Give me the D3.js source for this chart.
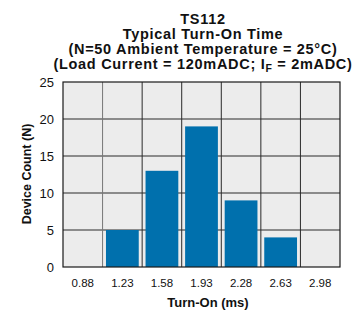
<!DOCTYPE html>
<html>
<head>
<meta charset="utf-8">
<script src="https://cdn.jsdelivr.net/npm/d3@7"></script>
<style>
  body { margin: 0; background: #fff; }
  svg { font-family: "Liberation Sans", Arial, Helvetica, sans-serif; }
</style>
</head>
<body>
<div id="chart"></div>
<script>
// data
const categories = ["0.88", "1.23", "1.58", "1.93", "2.28", "2.63", "2.98"];
const counts = [0, 5, 13, 19, 9, 4, 0];
const yTicks = [0, 5, 10, 15, 20, 25];

const W = 360, H = 312;
const margin = {top: 82, right: 20, bottom: 45, left: 63};
const width = 340 - margin.left;
const height = 267 - margin.top;

const svg = d3.select("#chart").append("svg")
  .attr("width", W)
  .attr("height", H);

// titles, one text per line
const titleX = 203;
const titleLines = ["TS112", "Typical Turn-On Time", "(N=50 Ambient Temperature = 25°C)"];
titleLines.forEach((t, i) => {
  svg.append("text")
    .attr("x", titleX)
    .attr("y", 24 + i * 15)
    .attr("text-anchor", "middle")
    .attr("font-weight", "bold")
    .attr("font-size", "14.5px")
    .attr("letter-spacing", "0.7px")
    .attr("fill", "#111")
    .text(t);
});
const last = svg.append("text")
  .attr("x", titleX)
  .attr("y", 69)
  .attr("text-anchor", "middle")
  .attr("font-weight", "bold")
  .attr("font-size", "14.5px")
  .attr("letter-spacing", "0.7px")
  .attr("fill", "#111");
last.append("tspan").text("(Load Current = 120mADC; I");
last.append("tspan").attr("font-size", "10.5px").attr("dy", 3).text("F");
last.append("tspan").attr("dy", -3).text(" = 2mADC)");

const g = svg.append("g")
  .attr("transform", "translate(" + margin.left + "," + margin.top + ")");

const x = d3.scaleBand()
  .domain(categories)
  .range([0, width])
  .padding(0);

const y = d3.scaleLinear()
  .domain([0, 25])
  .range([height, 0]);

// plot background
g.append("rect")
  .attr("width", width)
  .attr("height", height)
  .attr("fill", "#ececec");

// grid
g.selectAll(".hgrid")
  .data(yTicks.slice(1, -1))
  .enter().append("line")
  .attr("class", "hgrid")
  .attr("x1", 0).attr("x2", width)
  .attr("y1", d => y(d)).attr("y2", d => y(d))
  .attr("stroke", "#2a2a2a")
  .attr("stroke-width", 1);

g.selectAll(".vgrid")
  .data(categories.slice(1))
  .enter().append("line")
  .attr("class", "vgrid")
  .attr("x1", d => x(d)).attr("x2", d => x(d))
  .attr("y1", 0).attr("y2", height)
  .attr("stroke", (d, i) => i == 0 ? "#777" : "#2a2a2a")
  .attr("stroke-width", 1);

// bars
const inset = 3.4;
g.selectAll(".bar")
  .data(counts.map((c, i) => ({cat: categories[i], n: c})).filter(d => d.n > 0))
  .enter().append("rect")
  .attr("class", "bar")
  .attr("x", d => x(d.cat) + inset)
  .attr("width", x.bandwidth() - 2 * inset)
  .attr("y", d => y(d.n))
  .attr("height", d => height - y(d.n))
  .attr("fill", "#0070ad");

// frame
g.append("rect")
  .attr("width", width)
  .attr("height", height)
  .attr("fill", "none")
  .attr("stroke", "#1a1a1a")
  .attr("stroke-width", 1.2);

// axes
const yAxis = d3.axisLeft(y).tickValues(yTicks).tickSize(0).tickPadding(9);
g.append("g").call(yAxis)
  .call(s => s.select(".domain").remove())
  .selectAll("text")
  .attr("font-size", "13px")
  .attr("font-family", "Liberation Sans, Arial, sans-serif")
  .attr("fill", "#111");

const xAxis = d3.axisBottom(x).tickSize(0).tickPadding(12);
g.append("g")
  .attr("transform", "translate(0," + height + ")")
  .call(xAxis)
  .call(s => s.select(".domain").remove())
  .selectAll("text")
  .attr("font-size", "11.5px")
  .attr("font-family", "Liberation Sans, Arial, sans-serif")
  .attr("fill", "#111");

// axis titles
svg.append("text")
  .attr("x", 208)
  .attr("y", 307)
  .attr("text-anchor", "middle")
  .attr("font-weight", "bold")
  .attr("font-size", "13px")
  .attr("fill", "#111")
  .text("Turn-On (ms)");

svg.append("text")
  .attr("transform", "translate(31," + 174 + ") rotate(-90)")
  .attr("text-anchor", "middle")
  .attr("font-weight", "bold")
  .attr("font-size", "12.5px")
  .attr("fill", "#111")
  .text("Device Count (N)");
</script>
</body>
</html>
